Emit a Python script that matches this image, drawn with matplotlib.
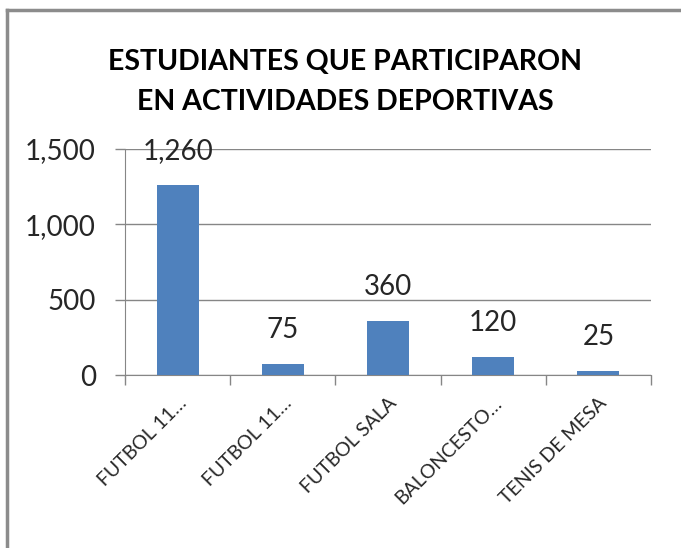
import matplotlib
matplotlib.use('Agg')
import matplotlib.pyplot as plt
from matplotlib.ticker import FuncFormatter
from matplotlib.lines import Line2D
import numpy as np

categorias = ['FUTBOL 11…', 'FUTBOL 11…', 'FUTBOL SALA', 'BALONCESTO…', 'TENIS DE MESA']
estudiantes = [1260, 75, 360, 120, 25]
titulo = 'ESTUDIANTES QUE PARTICIPARON\nEN ACTIVIDADES DEPORTIVAS'

plt.rcParams['font.family'] = ['Lato', 'DejaVu Sans']
gris = '#868686'
azul = '#4F81BD'

fig = plt.figure(figsize=(6.81, 5.48), dpi=100, facecolor='white')
ax = fig.add_axes([125/681, 1-375/548, (651-125)/681, (375-149)/548])

x = np.arange(len(categorias))
ax.bar(x, estudiantes, width=0.4, color=azul, zorder=3)
for xi, v in zip(x, estudiantes):
  ax.annotate('{:,}'.format(v), (xi, v), xytext=(0, 15), textcoords='offset points',
              ha='center', va='bottom', fontsize=20, color='#262626')

ax.set_xlim(-0.5, len(categorias)-0.5)
ax.set_ylim(0, 1500)
ax.set_yticks([0, 500, 1000, 1500])
ax.yaxis.set_major_formatter(FuncFormatter(lambda v, p: '{:,}'.format(int(v))))
ax.tick_params(axis='y', labelsize=20, labelcolor='#262626', length=7, color=gris, width=1, pad=14)
ax.grid(axis='y', color=gris, linewidth=1, zorder=0)

# ticks between categories, labels at bar centres
ax.set_xticks(np.arange(-0.5, len(categorias)), minor=False)
ax.set_xticklabels([])
ax.set_xticks(x, minor=True)
ax.set_xticklabels(categorias, minor=True, rotation=45, ha='right', rotation_mode='anchor',
                   fontsize=14, color='#262626')
ax.tick_params(axis='x', which='major', length=7, color=gris, width=1)
ax.tick_params(axis='x', which='minor', length=0, pad=14)

for s in ['top', 'right']:
  ax.spines[s].set_visible(False)
ax.spines['left'].set_color(gris)
ax.spines['bottom'].set_color(gris)

fig.text(345/681, 1-82/548, titulo, ha='center', va='center', fontsize=20.5,
         fontweight='bold', linespacing=1.7, color='black')

# marco del grafico
fig.add_artist(Line2D([7/681, 7/681], [0, 1-10/548], transform=fig.transFigure, color='#8c8c8c', lw=2.5))
fig.add_artist(Line2D([7/681, 1], [1-10/548, 1-10/548], transform=fig.transFigure, color='#8c8c8c', lw=2.5))

fig.savefig('out.png', dpi=100, facecolor='white')
